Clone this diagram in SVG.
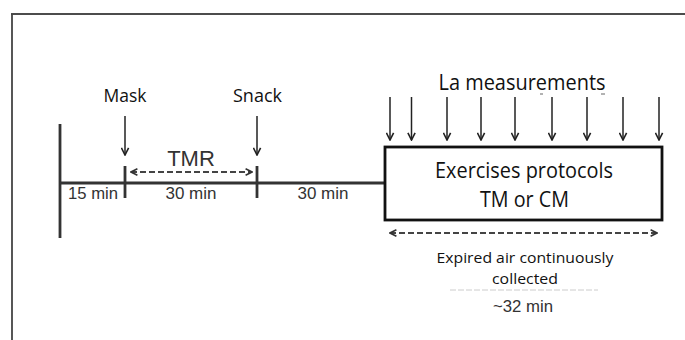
<svg xmlns="http://www.w3.org/2000/svg" width="685" height="340" viewBox="0 0 685 340">
<defs>
<marker id="ah" viewBox="0 0 10 10" refX="9" refY="5" markerWidth="9" markerHeight="9" markerUnits="userSpaceOnUse" orient="auto"><path d="M1,1 L9,5 L1,9" fill="none" stroke="#222" stroke-width="1.8"/></marker>
<marker id="dh" viewBox="0 0 10 10" refX="9" refY="5" markerWidth="8" markerHeight="8" markerUnits="userSpaceOnUse" orient="auto-start-reverse"><path d="M1,1 L9,5 L1,9" fill="none" stroke="#333" stroke-width="2"/></marker>
<style>
.my{font-family:"Open Sans","Noto Sans",sans-serif;fill:#111}
.ar{font-family:"Liberation Sans",Arial,sans-serif;fill:#333}
.ln{stroke:#333;stroke-width:2.8;fill:none}
.arr{stroke:#222;stroke-width:1.5;fill:none;marker-end:url(#ah)}
.dsh{stroke:#444;stroke-width:2;stroke-dasharray:6,3;fill:none;marker-start:url(#dh);marker-end:url(#dh)}
</style>
</defs>
<rect width="685" height="340" fill="#fff"/>
<g id="frame">
<line x1="11" y1="14" x2="685" y2="14" stroke="#111" stroke-width="1.6"/>
<line x1="12" y1="14" x2="12" y2="340" stroke="#444" stroke-width="1.8"/>
</g>
<g id="connectors">
<line class="ln" x1="60" y1="124" x2="60" y2="238"/>
<line class="ln" x1="60" y1="183" x2="385" y2="183"/>
<line class="ln" x1="125" y1="166" x2="125" y2="198"/>
<line class="ln" x1="257" y1="166" x2="257" y2="198"/>
<line class="arr" x1="125" y1="116" x2="125" y2="155"/>
<line class="arr" x1="257" y1="116" x2="257" y2="155"/>
<line class="dsh" x1="131" y1="172" x2="252" y2="172"/>
<line class="arr" x1="390" y1="97" x2="390" y2="140"/>
<line class="arr" x1="411.5" y1="97" x2="411.5" y2="140"/>
<line class="arr" x1="447" y1="97" x2="447" y2="140"/>
<line class="arr" x1="481" y1="97" x2="481" y2="140"/>
<line class="arr" x1="515" y1="97" x2="515" y2="140"/>
<line class="arr" x1="552" y1="97" x2="552" y2="140"/>
<line class="arr" x1="587" y1="97" x2="587" y2="140"/>
<line class="arr" x1="623" y1="97" x2="623" y2="140"/>
<line class="arr" x1="659" y1="97" x2="659" y2="140"/>
<line class="dsh" x1="390" y1="233" x2="657" y2="233"/>
</g>
<g id="labels">
<text class="my" x="125" y="102" font-size="19" text-anchor="middle" textLength="43" lengthAdjust="spacingAndGlyphs">Mask</text>
<text class="my" x="257.5" y="102" font-size="19" text-anchor="middle" textLength="49" lengthAdjust="spacingAndGlyphs">Snack</text>
<text class="ar" x="191" y="166" font-size="22" text-anchor="middle">TMR</text>
<text class="ar" x="93" y="199" font-size="16.5" text-anchor="middle" textLength="50" lengthAdjust="spacingAndGlyphs">15 min</text>
<text class="ar" x="191" y="199" font-size="16.5" text-anchor="middle" textLength="51" lengthAdjust="spacingAndGlyphs">30 min</text>
<text class="ar" x="323" y="199" font-size="16.5" text-anchor="middle" textLength="51" lengthAdjust="spacingAndGlyphs">30 min</text>
<text class="my" x="522" y="90" font-size="21" text-anchor="middle" textLength="167" lengthAdjust="spacingAndGlyphs">La measurements</text>
<line x1="540" y1="94" x2="543" y2="94" stroke="#666" stroke-width="1"/>
<line x1="601" y1="94" x2="605" y2="94" stroke="#666" stroke-width="1"/>
</g>
<g id="exercise">
<rect x="385" y="147" width="277" height="73" fill="#fff" stroke="#111" stroke-width="2.8"/>
<text class="my" x="524" y="178" font-size="21" text-anchor="middle" textLength="178" lengthAdjust="spacingAndGlyphs">Exercises protocols</text>
<text class="my" x="524.5" y="207" font-size="21" text-anchor="middle" textLength="89" lengthAdjust="spacingAndGlyphs">TM or CM</text>
</g>
<g id="expired">
<text class="my" x="525" y="263" font-size="15" text-anchor="middle" textLength="177" lengthAdjust="spacingAndGlyphs">Expired air continuously</text>
<text class="my" x="525" y="284" font-size="15" text-anchor="middle" textLength="66" lengthAdjust="spacingAndGlyphs">collected</text>
<line x1="450" y1="290" x2="598" y2="290" stroke="#ccc" stroke-width="1" stroke-dasharray="6,2"/>
<text class="ar" x="523" y="312" font-size="16" text-anchor="middle" textLength="60" lengthAdjust="spacingAndGlyphs">~32 min</text>
</g>
</svg>
